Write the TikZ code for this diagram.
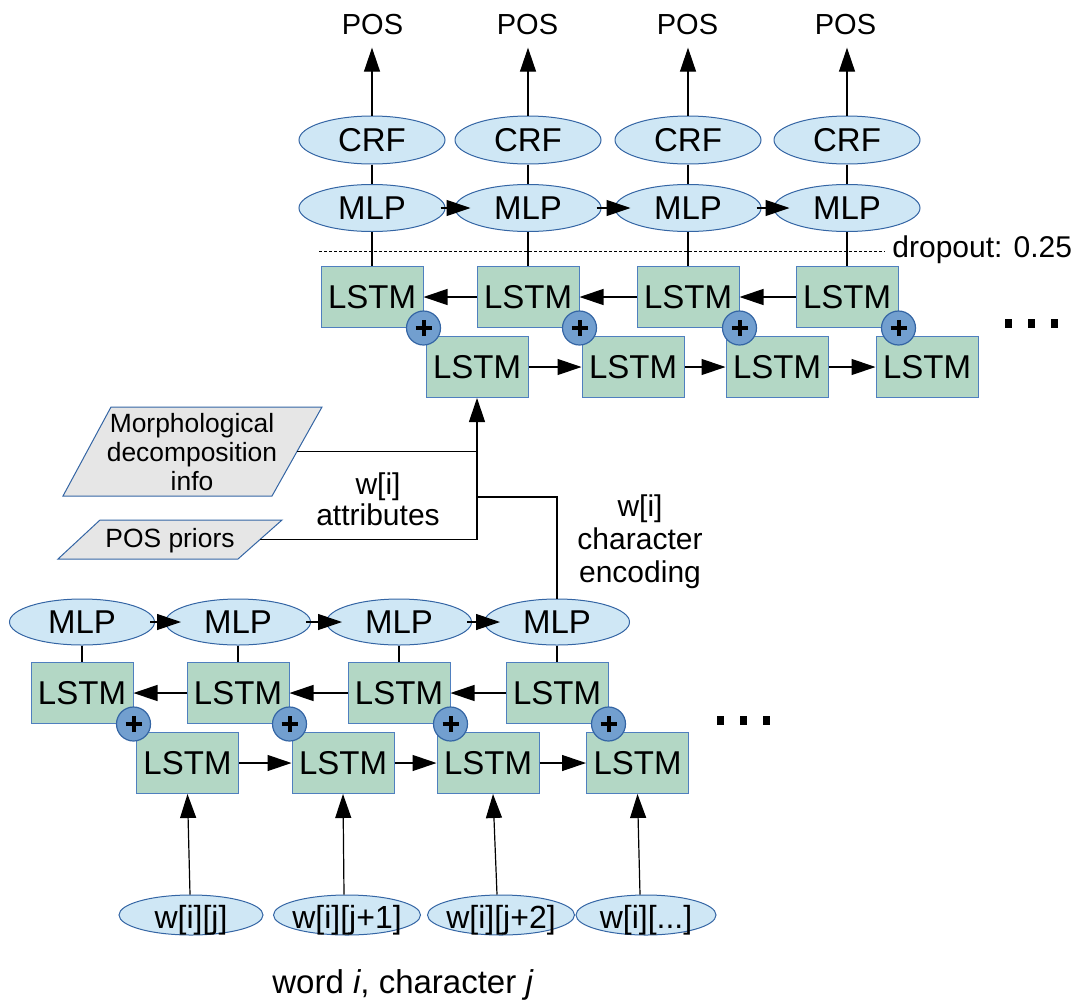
\documentclass[tikz,border=0pt]{standalone}
\usepackage{fontspec}
\setmainfont{Liberation Sans}
\usetikzlibrary{arrows.meta,shapes.geometric,calc}
\definecolor{ellfill}{HTML}{CFE7F5}
\definecolor{ellline}{HTML}{3465A4}
\definecolor{boxfill}{HTML}{B3D7C5}
\definecolor{boxline}{HTML}{4F7FBF}
\definecolor{parafill}{HTML}{E6E6E6}
\definecolor{plusfill}{HTML}{729FCF}
\newcommand\fsz[2]{\fontsize{#1}{#2}\selectfont}
% text that does not change the size of its shape
\newcommand\fixedtext[1]{\raisebox{-0.42em}[0pt][0pt]{\makebox[0pt]{#1}}}
\begin{document}
\begin{tikzpicture}[x=0.5pt,y=-0.5pt,
  conn/.style={line width=0.6pt},
  arr/.style={conn,-{Triangle[length=12pt,width=8pt]}},
  ell/.style={ellipse,draw=ellline,line width=0.5pt,fill=ellfill,inner sep=0pt,
    minimum width=73pt,minimum height=23.5pt,font=\fsz{16.5}{18}},
  crf/.style={ell,minimum height=24pt},
  inp/.style={ell,minimum height=20pt,font=\fsz{16}{18}},
  lstm/.style={rectangle,draw=boxline,line width=0.5pt,fill=boxfill,inner sep=0pt,
    minimum width=51pt,minimum height=30.5pt,font=\fsz{16.5}{18}},
  plus/.style={circle,draw=ellline,fill=plusfill,line width=0.6pt,minimum size=17pt,inner sep=0pt,
    path picture={\draw[line width=2pt,black]
      ([xshift=-4pt]path picture bounding box.center) -- ([xshift=4pt]path picture bounding box.center)
      ([yshift=-4pt]path picture bounding box.center) -- ([yshift=4pt]path picture bounding box.center);}},
  para/.style={draw=ellline,line width=0.5pt,fill=parafill},
  txt/.style={inner sep=0pt,align=center},
  dots/.style={inner sep=0pt},
]
\useasboundingbox (0,0) rectangle (1075,1001);

% ---------- word level tagger ----------
\foreach \i/\x in {1/372.5,2/527.5,3/687.5,4/845.5}
  \node[txt,font=\fsz{14.5}{16}] (pos\i) at (\x,25) {POS};
\foreach \i/\x in {1/372,2/528,3/688,4/847} {
  \node[crf] (crf\i) at (\x,140) {CRF};
  \node[ell] (tm\i) at (\x,208) {MLP};
  \node[lstm] (tb\i) at (\x,297) {LSTM};
}
\foreach \i/\x in {1/477,2/633,3/777,4/927}
  \node[lstm] (tf\i) at (\x,367) {LSTM};
\foreach \i in {1,...,4}
  \node[plus] (tp\i) at (tb\i.south east) {};

\node[txt,font=\fsz{15}{17},anchor=base west] (drop) at (892,257) {dropout: 0.25};
\coordinate (dl) at (319,251);
\draw[line width=0.5pt,dash pattern=on 1.5pt off 1pt] (dl) -- ([xshift=-3.5pt]drop.west |- dl);

\node[dots] (dotsT) at (1031,323)
  {\rule{3.5pt}{4.5pt}\hspace{8pt}\rule{3.5pt}{4.5pt}\hspace{8pt}\rule{3.5pt}{4.5pt}};

\foreach \i in {1,...,4} {
  \draw[arr,shorten >=6pt] (crf\i.north) -- (crf\i.north |- pos\i.south);
  \draw[conn] (crf\i) -- (tm\i);
  \draw[conn] (tm\i) -- (tb\i);
}
\foreach \i/\j in {1/2,2/3,3/4} {
  \draw[arr] ([xshift=-2.5pt]tm\i.east) -- ([xshift=8pt]tm\j.west);
  \draw[arr] (tb\j) -- (tb\i);
  \draw[arr] (tf\i) -- (tf\j);
}

% ---------- word attributes ----------
\coordinate (m1) at (111,407); \coordinate (m2) at (322,407);
\coordinate (m3) at (272,496); \coordinate (m4) at (63,496);
\draw[para] (m1) -- (m2) -- (m3) -- (m4) -- cycle;
\coordinate (morphR) at ($(m2)!0.5!(m3)$);
\node[txt,font=\fsz{13.2}{14.7}] (morph) at (192,452)
  {Morphological\\decomposition\\info};

\coordinate (p1) at (100,520); \coordinate (p2) at (282,520);
\coordinate (p3) at (238,559); \coordinate (p4) at (58,559);
\draw[para] (p1) -- (p2) -- (p3) -- (p4) -- cycle;
\coordinate (priorR) at ($(p2)!0.5!(p3)$);
\node[txt,font=\fsz{13.2}{14.7}] (prior) at (170,541) {POS priors};

\node[txt,font=\fsz{15}{15.5}] (attr) at (378,499) {w[i]\\attributes};
\node[txt,font=\fsz{15}{16.5}] (cenc) at (640,542) {w[i]\\character\\encoding};

% ---------- character level encoder ----------
\foreach \i/\x in {1/82,2/238,3/399,4/557} {
  \node[ell,minimum width=72.5pt,minimum height=23pt] (bm\i) at (\x,622) {MLP};
  \node[lstm] (bb\i) at (\x,693) {LSTM};
}
\foreach \i/\x in {1/187.5,2/343,3/488,4/637.5}
  \node[lstm] (bf\i) at (\x,763) {LSTM};
\foreach \i in {1,...,4}
  \node[plus] (bp\i) at (bb\i.south east) {};

\node[inp,minimum width=72pt] (w1) at (191,915) {\fixedtext{w[i][j]}};
\node[inp,minimum width=73.5pt] (w2) at (347,915) {\fixedtext{w[i][j+1]}};
\node[inp,minimum width=73.5pt] (w3) at (501,915) {\fixedtext{w[i][j+2]}};
\node[inp,minimum width=70pt] (w4) at (646,915) {\fixedtext{w[i][...]}};

\node[dots] (dotsB) at (743,720)
  {\rule{3.5pt}{4.5pt}\hspace{8pt}\rule{3.5pt}{4.5pt}\hspace{8pt}\rule{3.5pt}{4.5pt}};

\node[inner sep=0pt,font=\fsz{16.5}{18},anchor=base] (caption) at (403,993)
  {word \textit{i}, character \textit{j}};

\foreach \i in {1,...,4}
  \draw[conn] (bm\i) -- (bb\i);
\foreach \i/\j in {1/2,2/3,3/4} {
  \draw[arr] ([xshift=-2.5pt]bm\i.east) -- ([xshift=8pt]bm\j.west);
  \draw[arr] (bb\j) -- (bb\i);
  \draw[arr] (bf\i) -- (bf\j);
}
\draw[arr] ([xshift=-0.5pt]w1.north) -- (bf1.south);
\draw[arr] ([xshift=-1.5pt]w2.north) -- (bf2.south);
\draw[arr] ([xshift=-2pt]w3.north) -- ([xshift=2.5pt]bf3.south);
\draw[arr] ([xshift=-3pt]w4.north) -- (bf4.south);

% ---------- inputs of the word level tagger ----------
\coordinate (cj) at (477,497);
\draw[arr] (priorR) -- (tf1.south |- priorR) -- (tf1.south);
\draw[conn] (morphR) -- (tf1.south |- morphR);
\draw[conn] (bm4.north) |- (tf1.south |- cj);
\end{tikzpicture}
\end{document}
